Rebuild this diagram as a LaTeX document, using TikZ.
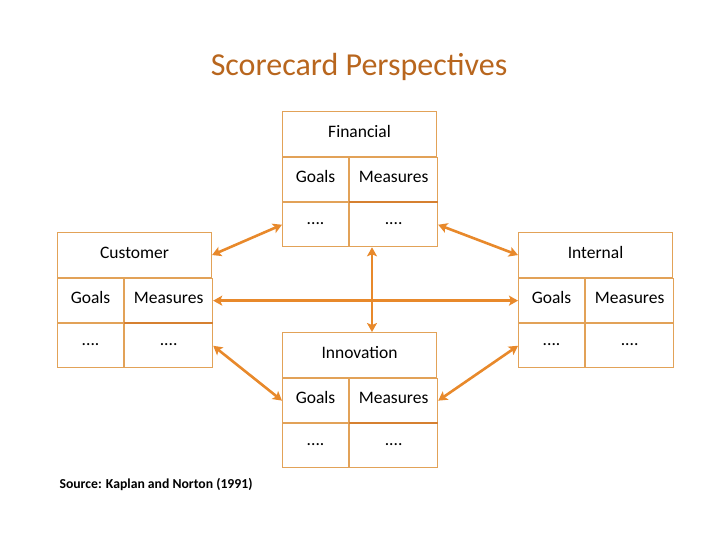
\documentclass[tikz,border=0pt]{standalone}
\usepackage{fontspec}
\setmainfont{Carlito}
\usetikzlibrary{arrows.meta}

\definecolor{cardline}{RGB}{226,162,88}
\definecolor{cardrule}{RGB}{214,128,48}
\definecolor{linkcol}{RGB}{232,137,43}
\definecolor{titlecol}{RGB}{184,102,30}

\begin{document}
\begin{tikzpicture}[x=1pt, y=-1pt, >={Stealth[length=9pt,width=10pt,inset=2pt]}]
    % page frame 720 x 540, y counted downwards
    \useasboundingbox (0,0) rectangle (720,540);
    \tikzset{
        cell/.style={draw=cardline, line width=1.1pt, inner sep=0pt,
            font=\fontsize{17.5}{20}\selectfont, text height=1.5ex, text depth=.25ex},
        headcell/.style={cell, minimum width=154pt, minimum height=45pt, anchor=north west},
        goalcell/.style={cell, minimum width=66pt, minimum height=44pt, anchor=north west},
        meascell/.style={cell, minimum width=88pt, minimum height=44pt, anchor=north west},
        link/.style={<->, draw=linkcol, line width=2.6pt}
    }

    \node[text=titlecol, font=\fontsize{32}{38}\selectfont] (title) at (359,67) {Scorecard Perspectives};

    % the four cards: header, then Goals | Measures, then the dotted row
    \foreach \n/\x/\y/\t in {fin/282/111/Financial, cust/57/232/Customer,
                             int/518/232/Internal, inn/282/332/Innovation} {
        \node[headcell] (\n-head) at (\x,\y) {\t};
        \node[goalcell] (\n-goal) at (\n-head.south west) {Goals};
        \node[meascell] (\n-meas) at (\n-goal.north east) {Measures};
        \node[goalcell] (\n-gdot) at (\n-goal.south west) {\raisebox{3pt}{....}};
        \node[meascell] (\n-mdot) at (\n-meas.south west) {\raisebox{3pt}{....}};
    }
    \foreach \n in {fin, cust, inn}
        \draw[cardrule, line width=1.8pt] (\n-meas.south west) -- (\n-meas.south east);

    \coordinate (mid) at (372,298);

    \draw[link] (cust-head.east) -- (fin-gdot.west);
    \draw[link] (fin-mdot.east) -- (int-head.west);
    \draw[link] (cust-meas.east) -- (int-goal.west);
    \draw[link] (fin-mdot.south -| mid) -- (inn-head.north -| mid);
    \draw[link] (cust-mdot.east) -- (inn-goal.west);
    \draw[link] (int-gdot.west) -- (inn-meas.east);

    \node[anchor=west, font=\fontsize{13.7}{16}\selectfont\bfseries] (source) at (56,484) {Source: Kaplan and Norton (1991)};
\end{tikzpicture}
\end{document}
